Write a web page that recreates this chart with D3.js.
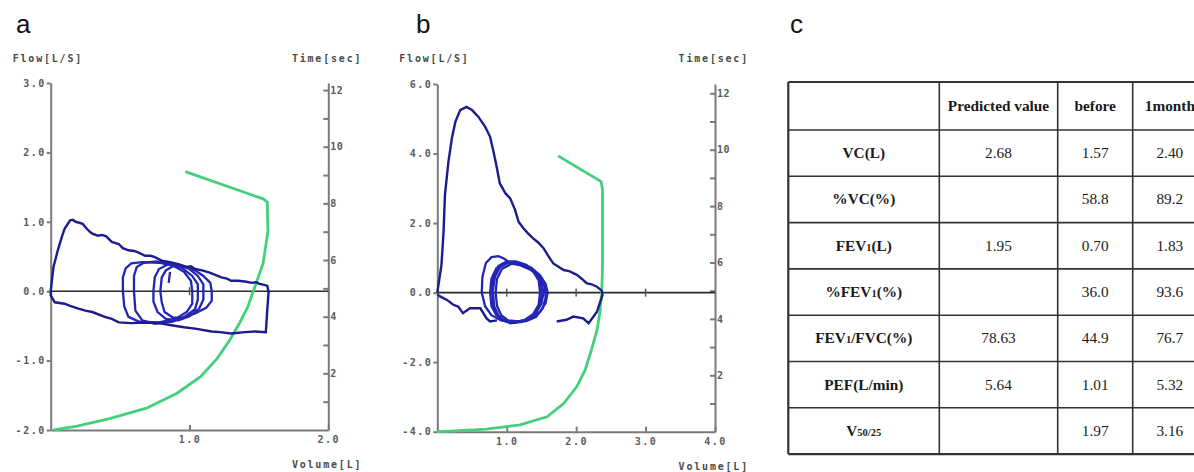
<!DOCTYPE html>
<html>
<head>
<meta charset="utf-8">
<script src="https://cdn.jsdelivr.net/npm/d3@7"></script>
<style>
  body { margin: 0; background: #fff; }
  .ax text { font-family: "DejaVu Sans Mono", monospace; font-weight: bold; font-size: 10px; fill: #5a5a5a; letter-spacing: 1.5px; }
  .ax path, .ax line { stroke: #7a7a7a; stroke-width: 2; }
  .lbl { font-family: "DejaVu Sans Mono", monospace; font-weight: bold; font-size: 10px; fill: #4a4a4a; letter-spacing: 1.8px; }
  .letter { font-family: "Liberation Sans", Arial, sans-serif; font-size: 26px; fill: #111; }
  .tbl text { font-family: "Liberation Serif", "Times New Roman", serif; font-size: 15.3px; fill: #1a1a1a; }
</style>
</head>
<body>
<svg id="fig" width="1194" height="472"></svg>
<script>
// ---- panel a : flow-volume loop [volume L, flow L/s] ----
const loopA = [[0,0],[0.02,0.35],[0.05,0.58],[0.08,0.78],[0.10,0.90],[0.14,1.02],[0.16,1.03],[0.18,1.00],[0.20,0.99],[0.23,0.97],
  [0.26,0.90],[0.28,0.86],[0.30,0.83],[0.34,0.80],[0.37,0.81],[0.40,0.79],[0.44,0.71],[0.49,0.68],[0.52,0.62],[0.56,0.59],
  [0.60,0.58],[0.63,0.56],[0.68,0.51],[0.72,0.51],[0.75,0.49],[0.80,0.44],[0.86,0.42],[0.92,0.39],[0.98,0.35],[1.01,0.36],
  [1.04,0.32],[1.09,0.30],[1.14,0.27],[1.19,0.23],[1.23,0.20],[1.27,0.18],[1.30,0.15],[1.35,0.15],[1.40,0.14],[1.45,0.12],
  [1.48,0.13],[1.50,0.11],[1.56,0.08],[1.57,-0.01],[1.56,-0.28],[1.55,-0.59],[1.47,-0.58],[1.40,-0.59],[1.30,-0.61],
  [1.22,-0.59],[1.16,-0.58],[1.04,-0.54],[0.96,-0.52],[0.87,-0.49],[0.78,-0.46],[0.68,-0.45],[0.58,-0.46],[0.49,-0.45],
  [0.44,-0.40],[0.39,-0.37],[0.30,-0.30],[0.25,-0.28],[0.20,-0.25],[0.14,-0.21],[0.10,-0.18],[0.03,-0.16],[0,-0.06],[0,0]];
// tidal breathing loops
const tidalA = [
  [[0.52,0],[0.52,0.2],[0.54,0.33],[0.58,0.40],[0.66,0.42],[0.78,0.41],[0.88,0.37],[0.96,0.28],[1.01,0.15],[1.02,0],
   [1.02,-0.18],[0.98,-0.30],[0.90,-0.40],[0.78,-0.45],[0.64,-0.44],[0.56,-0.37],[0.53,-0.22],[0.52,0]],
  [[0.60,0],[0.60,0.22],[0.62,0.35],[0.67,0.41],[0.76,0.43],[0.86,0.40],[0.95,0.33],[1.02,0.22],[1.06,0.10],[1.06,-0.12],
   [1.04,-0.26],[0.97,-0.36],[0.88,-0.44],[0.75,-0.47],[0.66,-0.42],[0.61,-0.28],[0.60,0]],
  [[0.74,0],[0.75,0.2],[0.78,0.32],[0.84,0.38],[0.92,0.38],[1.00,0.32],[1.06,0.22],[1.10,0.10],[1.10,-0.12],[1.07,-0.25],
   [1.00,-0.36],[0.92,-0.42],[0.83,-0.40],[0.77,-0.30],[0.74,-0.15],[0.74,0]],
  [[0.79,0],[0.80,0.2],[0.83,0.30],[0.88,0.36],[0.96,0.36],[1.04,0.30],[1.10,0.22],[1.15,0.12],[1.16,0],[1.16,-0.14],
   [1.12,-0.24],[1.04,-0.32],[0.96,-0.38],[0.88,-0.38],[0.82,-0.30],[0.80,-0.16],[0.79,0]],
  [[0.86,0.28],[0.85,0.12]]
];
// volume-time curve [volume L, time s]
const timeA = [[0.02,0],[0.19,0.14],[0.43,0.41],[0.69,0.77],[0.91,1.30],[1.08,1.88],[1.20,2.53],[1.29,3.18],[1.36,3.77],
  [1.42,4.35],[1.48,5.18],[1.53,5.88],[1.565,7.0],[1.56,8.05],[1.53,8.16],[0.97,9.12]];

// ---- panel b ----
const loopB = [[0,0],[0.03,0.40],[0.06,0.80],[0.09,1.75],[0.11,2.81],[0.16,3.76],[0.21,4.44],[0.26,4.91],[0.33,5.25],
  [0.42,5.34],[0.50,5.25],[0.59,5.06],[0.69,4.77],[0.76,4.48],[0.81,4.05],[0.86,3.57],[0.90,3.14],[0.98,2.86],
  [1.05,2.71],[1.12,2.38],[1.17,2.04],[1.24,1.85],[1.30,1.72],[1.38,1.56],[1.45,1.45],[1.53,1.28],[1.60,1.05],[1.67,0.84],
  [1.82,0.65],[1.90,0.62],[2.01,0.51],[2.08,0.40],[2.15,0.27],[2.22,0.24],[2.30,0.17],[2.37,0.05],[2.38,-0.07],
  [2.34,-0.30],[2.30,-0.55],[2.18,-0.88],[2.10,-0.74],[1.96,-0.69],[1.86,-0.78],[1.72,-0.83]];
const loopBlow = [[0,-0.05],[0.04,-0.11],[0.14,-0.21],[0.23,-0.35],[0.30,-0.40],[0.37,-0.59],[0.47,-0.45],[0.62,-0.45],
  [0.71,-0.74],[0.76,-0.83],[0.86,-0.80]];
const tidalB = [
  [[0.64,0],[0.65,0.45],[0.70,0.85],[0.78,1.02],[0.88,1.05],[0.96,0.98],[1.05,0.85],[1.20,0.78],[1.35,0.65],[1.48,0.45],
   [1.55,0.15],[1.56,-0.15],[1.52,-0.45],[1.42,-0.70],[1.28,-0.82],[1.10,-0.85],[0.92,-0.80],[0.78,-0.65],[0.69,-0.40],[0.64,0]],
  [[0.76,0],[0.78,0.40],[0.85,0.70],[0.96,0.85],[1.10,0.88],[1.25,0.80],[1.38,0.62],[1.46,0.35],[1.48,0],[1.46,-0.35],
   [1.38,-0.62],[1.25,-0.80],[1.10,-0.85],[0.96,-0.80],[0.85,-0.65],[0.78,-0.38],[0.76,0]],
  [[0.80,0.05],[0.83,0.45],[0.90,0.72],[1.02,0.86],[1.16,0.86],[1.30,0.75],[1.42,0.55],[1.50,0.28],[1.53,0],[1.50,-0.32],
   [1.42,-0.58],[1.28,-0.78],[1.12,-0.86],[0.98,-0.82],[0.88,-0.66],[0.82,-0.40],[0.80,0.05]],
  [[0.84,0],[0.86,0.40],[0.93,0.68],[1.06,0.82],[1.20,0.84],[1.35,0.72],[1.48,0.50],[1.56,0.25],[1.59,0],[1.56,-0.30],
   [1.48,-0.55],[1.34,-0.74],[1.18,-0.83],[1.02,-0.80],[0.92,-0.65],[0.86,-0.38],[0.84,0]],
  [[0.79,0.1],[0.81,0.48],[0.88,0.76],[1.00,0.90],[1.13,0.90],[1.28,0.80],[1.40,0.60],[1.49,0.32],[1.51,-0.05],[1.47,-0.40],
   [1.38,-0.66],[1.22,-0.84],[1.05,-0.88],[0.92,-0.78],[0.84,-0.58],[0.80,-0.30],[0.79,0.1]]
];
const timeB = [[0,0],[0.18,0.02],[0.71,0.09],[1.19,0.24],[1.58,0.53],[1.82,1.0],[2.01,1.6],[2.13,2.19],[2.22,2.9],
  [2.30,3.6],[2.34,4.2],[2.37,4.96],[2.38,5.97],[2.38,7.15],[2.38,8.57],[2.36,8.87],[1.74,9.78]];

// ticks
const flowTicksA = [-2, -1, 0, 1, 2, 3];
const volTicksA = [1, 2];
const flowTicksB = [-4, -2, 0, 2, 4, 6];
const volTicksB = [1, 2, 3, 4];
const timeTicks = [1, 2, 3, 4, 5, 6, 7, 8, 9, 10, 11, 12];

// ---- table c ----
const tableHead = ["", "Predicted value", "before", "1month"];
const rowLabels = ["VC(L)", "%VC(%)", "FEV{1}(L)", "%FEV{1}(%)", "FEV{1}/FVC(%)", "PEF(L/min)", "V{50/25}"];
const predicted = ["2.68", "", "1.95", "", "78.63", "5.64", ""];
const before = ["1.57", "58.8", "0.70", "36.0", "44.9", "1.01", "1.97"];
const month1 = ["2.40", "89.2", "1.83", "93.6", "76.7", "5.32", "3.16"];

const svg = d3.select("#fig");

const drawPanel = (p) => {
  const x = d3.scaleLinear().domain(p.volDomain).range([p.left, p.right]);
  const y = d3.scaleLinear().domain(p.flowDomain).range([p.bottom, p.top]);
  const t = d3.scaleLinear().domain(p.timeDomain).range([p.bottom, p.top]);
  const g = svg.append("g");

  // axes
  g.append("g").attr("class", "ax").attr("transform", `translate(${p.left},0)`)
    .call(d3.axisLeft(y).tickValues(p.flowTicks).tickFormat(d => d.toFixed(1)).tickSize(4).tickSizeOuter(0).tickPadding(1));
  g.append("g").attr("class", "ax").attr("transform", `translate(0,${p.bottom})`)
    .call(d3.axisBottom(x).tickValues(p.volTicks).tickFormat(d => d.toFixed(1)).tickSize(-5).tickSizeOuter(0).tickPadding(6));
  g.append("g").attr("class", "ax").attr("transform", `translate(${p.right},0)`)
    .call(d3.axisRight(t).tickValues(timeTicks).tickFormat(d => d % 2 === 0 ? d : "").tickSize(-5).tickSizeOuter(0).tickPadding(2))
    .selectAll("text").style("letter-spacing", "0.5px");

  // zero flow line with small volume ticks
  g.append("line").attr("x1", p.left).attr("x2", p.right).attr("y1", y(0)).attr("y2", y(0))
    .attr("stroke", "#2a2a2a").attr("stroke-width", 1.6);
  g.selectAll(".zt").data(p.volTicks.filter(v => v < p.volDomain[1])).enter().append("line")
    .attr("x1", d => x(d)).attr("x2", d => x(d)).attr("y1", y(0) - 4).attr("y2", y(0) + 4)
    .attr("stroke", "#555").attr("stroke-width", 1.5);

  // curves
  const flowLine = d3.line().x(d => x(d[0])).y(d => y(d[1]));
  const timeLine = d3.line().x(d => x(d[0])).y(d => t(d[1]));
  g.append("path").attr("d", timeLine(p.time)).attr("fill", "none").attr("stroke", "#44cf7d").attr("stroke-width", 2.8);
  g.selectAll(".tidal").data(p.tidal).enter().append("path")
    .attr("d", d => flowLine(d)).attr("fill", "none").attr("stroke", "#2326b4").attr("stroke-width", 2.3);
  p.loops.forEach(l => {
    g.append("path").attr("d", flowLine(l)).attr("fill", "none").attr("stroke", "#1c1c90").attr("stroke-width", 2.4);
  });

  // axis titles
  g.append("text").attr("class", "lbl").attr("x", p.left - 38).attr("y", 62).text("Flow[L/S]");
  g.append("text").attr("class", "lbl").attr("x", p.right + 34).attr("y", 62).attr("text-anchor", "end").text("Time[sec]");
  g.append("text").attr("class", "lbl").attr("x", p.right + 34).attr("y", p.bottom + 38).attr("text-anchor", "end").text("Volume[L]");
  g.append("text").attr("class", "letter").attr("x", p.letterX).attr("y", 33).text(p.letter);
};

drawPanel({ letter: "a", letterX: 16, left: 50.7, right: 328.3, top: 83, bottom: 430,
  volDomain: [0, 2], flowDomain: [-2, 3], timeDomain: [0, 12.25],
  flowTicks: flowTicksA, volTicks: volTicksA, loops: [loopA], tidal: tidalA, time: timeA });

drawPanel({ letter: "b", letterX: 416, left: 437.3, right: 715, top: 84, bottom: 431.7,
  volDomain: [0, 4], flowDomain: [-4, 6], timeDomain: [0, 12.33],
  flowTicks: flowTicksB, volTicks: volTicksB, loops: [loopB, loopBlow], tidal: tidalB, time: timeB });

// ---- table ----
const drawTable = () => {
  const colX = [788.3, 939.3, 1057.7, 1132.7, 1207];
  const rowY = [82, 130];
  rowLabels.forEach(() => rowY.push(rowY[rowY.length - 1] + 46.3));
  const g = svg.append("g").attr("class", "tbl");

  svg.append("text").attr("class", "letter").attr("x", 790).attr("y", 33).text("c");

  // grid lines
  rowY.forEach((yy, i) => g.append("line").attr("x1", colX[0]).attr("x2", colX[4]).attr("y1", yy).attr("y2", yy)
    .attr("stroke", "#333").attr("stroke-width", (i === 0 || i === rowY.length - 1) ? 2.2 : 1.6));
  colX.forEach((xx, i) => g.append("line").attr("x1", xx).attr("x2", xx).attr("y1", rowY[0]).attr("y2", rowY[rowY.length - 1])
    .attr("stroke", "#333").attr("stroke-width", i === 0 ? 2.2 : 1.6));

  const cx = i => (colX[i] + colX[i + 1]) / 2;
  const cy = i => (rowY[i] + rowY[i + 1]) / 2 + 5;

  tableHead.forEach((h, i) => g.append("text").attr("x", cx(i)).attr("y", cy(0)).attr("text-anchor", "middle")
    .attr("font-weight", "bold").text(h));

  rowLabels.forEach((lab, r) => {
    const txt = g.append("text").attr("x", cx(0)).attr("y", cy(r + 1)).attr("text-anchor", "middle").attr("font-weight", "bold");
    lab.split(/[{}]/).forEach((part, k) => {
      if (!part) return;
      const s = txt.append("tspan").text(part);
      if (k % 2 === 1) s.style("font-size", "10.5px");
    });
    [predicted[r], before[r], month1[r]].forEach((v, c) => {
      g.append("text").attr("x", cx(c + 1)).attr("y", cy(r + 1)).attr("text-anchor", "middle").text(v);
    });
  });
};

drawTable();
</script>
</body>
</html>
